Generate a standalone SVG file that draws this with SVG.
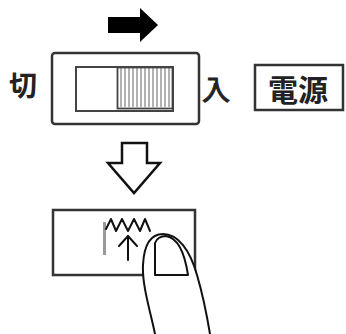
<svg xmlns="http://www.w3.org/2000/svg" width="346" height="334" viewBox="0 0 346 334">
  <style>
    .frame { fill: #fff; stroke: #333; stroke-width: 2.5; }
    .inner { fill: #fff; stroke: #444; stroke-width: 2; }
    .hatch { stroke: #888; stroke-width: 1.3; }
    .label { font-family: "Noto Sans CJK JP", "Noto Sans CJK SC", sans-serif; fill: #222; }
    .ink { fill: none; stroke: #111; stroke-width: 2; stroke-linejoin: round; stroke-linecap: round; }
  </style>
  <rect width="346" height="334" fill="#fff"/>

  <!-- direction arrows -->
  <g id="connectors">
    <polygon points="108,17 140,17 140,8 158,25 140,42 140,33 108,33" fill="#000"/>
    <polygon points="122,143 147,143 147,163 160,163 134,193 108,163 122,163" fill="#fff" stroke="#111" stroke-width="2.5" stroke-linejoin="miter"/>
  </g>

  <!-- slide switch -->
  <g id="switch">
    <rect class="frame" x="52" y="53" width="147" height="71" rx="3"/>
    <rect class="inner" x="76" y="67" width="97" height="44"/>
    <g class="hatch">
      <line x1="121" y1="68" x2="121" y2="107"/>
      <line x1="125" y1="68" x2="125" y2="107"/>
      <line x1="129" y1="68" x2="129" y2="107"/>
      <line x1="133" y1="68" x2="133" y2="107"/>
      <line x1="137" y1="68" x2="137" y2="107"/>
      <line x1="141" y1="68" x2="141" y2="107"/>
      <line x1="145" y1="68" x2="145" y2="107"/>
      <line x1="149" y1="68" x2="149" y2="107"/>
      <line x1="153" y1="68" x2="153" y2="107"/>
      <line x1="157" y1="68" x2="157" y2="107"/>
      <line x1="161" y1="68" x2="161" y2="107"/>
      <line x1="165" y1="68" x2="165" y2="107"/>
      <line x1="169" y1="68" x2="169" y2="107"/>
    </g>
    <rect x="117.5" y="67.5" width="55" height="41" fill="none" stroke="#444" stroke-width="1.8"/>
  </g>

  <g id="label-off">
    <text class="label" x="9" y="96" font-size="28" font-weight="bold">切</text>
  </g>
  <g id="label-on">
    <text class="label" x="202" y="100" font-size="28" font-weight="normal" stroke="#222" stroke-width="1">入</text>
  </g>

  <g id="power">
    <rect class="frame" x="255" y="65" width="88" height="45"/>
    <text class="label" x="268" y="101" font-size="30" font-weight="bold">電源</text>
  </g>

  <!-- pressed spring button -->
  <g id="button">
    <rect class="frame" x="53" y="210" width="142" height="65"/>
    <rect x="103" y="222" width="3" height="33" fill="#999"/>
    <polyline class="ink" stroke-width="1.6" points="106,229 111,219 116,231 122,219 128,231 134,219 140,231 145,219 150,231"/>
    <line class="ink" stroke-width="1.8" x1="128" y1="260" x2="128" y2="236"/>
    <polyline class="ink" stroke-width="1.8" points="119,246 128,236 137,246"/>
  </g>

  <g id="finger">
    <path d="M155,334 C150,310 142,285 143,265 C144,245 150,234 163,234 C178,234 190,250 197,275 C202,292 206,310 210,334 Z" fill="#fff" stroke="none"/>
    <path class="ink" d="M155,334 C150,310 142,285 143,265 C144,245 150,234 163,234 C178,234 190,250 197,275 C202,292 206,310 210,334"/>
    <path class="ink" d="M155,243 L155,275 L188,275 C185,255 179,238 166,236 C160,236 157,238 155,243 Z" fill="#fff"/>
  </g>
</svg>
